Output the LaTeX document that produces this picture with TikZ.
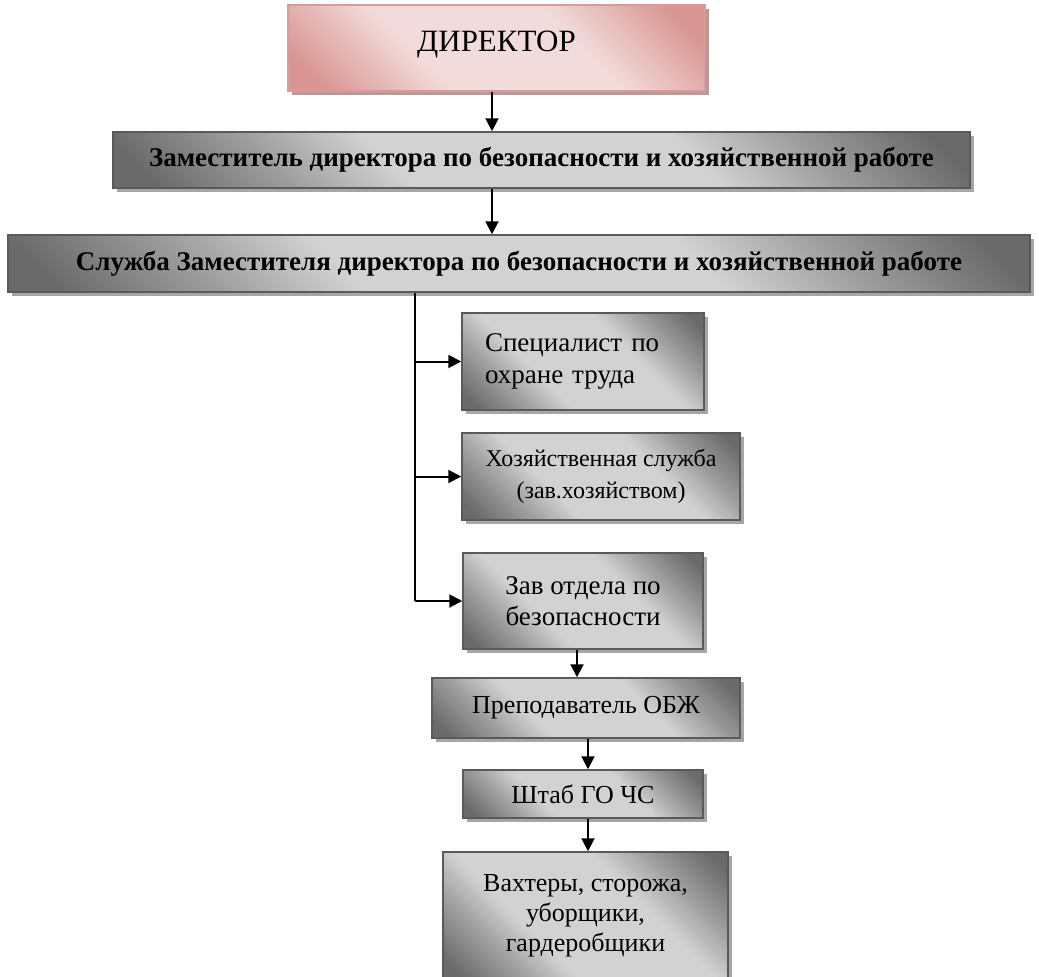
\documentclass[tikz,border=0pt]{standalone}
\usepackage{fontspec}
\setmainfont{Liberation Serif}
\usetikzlibrary{shadows,arrows.meta}
\definecolor{gdark}{HTML}{6A6A6A}
\definecolor{gmid}{HTML}{A0A0A0}
\definecolor{glight}{HTML}{D2D2D2}
\definecolor{gborder}{HTML}{5A5A5A}
\definecolor{gshadow}{HTML}{A6A6A6}
\definecolor{pdark}{HTML}{D99694}
\definecolor{plight}{HTML}{F2DCDB}
\definecolor{pborder}{HTML}{D99A98}
\definecolor{pshadow}{HTML}{B59C9B}
\pgfdeclarehorizontalshading{graymetal}{100bp}{color(0bp)=(gdark); color(18bp)=(gdark); color(29bp)=(gmid); color(38bp)=(glight); color(62bp)=(glight); color(71bp)=(gmid); color(82bp)=(gdark); color(100bp)=(gdark)}
\pgfdeclarehorizontalshading{pinkmetal}{100bp}{color(0bp)=(pdark); color(20bp)=(pdark); color(38bp)=(plight); color(62bp)=(plight); color(80bp)=(pdark); color(100bp)=(pdark)}
\tikzset{
  box/.style={draw=gborder, line width=1.5pt, shading=graymetal, shading angle=45,
    drop shadow={shadow xshift=4pt, shadow yshift=-4pt, fill=gshadow, opacity=1},
    inner sep=0pt, align=center},
  pinkbox/.style={draw=pborder, line width=2pt, shading=pinkmetal, shading angle=45,
    drop shadow={shadow xshift=4pt, shadow yshift=-4pt, fill=pshadow, opacity=1},
    inner sep=0pt, align=center},
  arr/.style={line width=2pt, -{Triangle[length=13pt,width=13pt]}},
  trunk/.style={line width=1.5pt},
}
\begin{document}
\begin{tikzpicture}[x=1pt,y=-1pt]
\useasboundingbox (0,0) rectangle (1039,977);
\node[pinkbox, minimum width=417pt, minimum height=86pt, font={\fontsize{31}{36}\selectfont}] (dir) at (496.5,48)
  {\raisebox{14pt}{ДИРЕКТОР}};
\node[box, minimum width=857pt, minimum height=56pt, font={\fontsize{27}{32}\selectfont\bfseries}] (z1) at (541.5,160)
  {Заместитель директора по безопасности и хозяйственной работе};
\node[box, minimum width=1022pt, minimum height=57pt, font={\fontsize{27}{32}\selectfont\bfseries}] (z2) at (519,263.5)
  {Служба Заместителя директора по безопасности и хозяйственной работе};
\node[box, minimum width=242pt, minimum height=97pt, text width=196pt, align=left, font={\fontsize{27}{32}\selectfont}] (s1) at (583,361.5)
  {Специалист по\\охране труда};
\node[box, minimum width=278pt, minimum height=87pt, font={\fontsize{24}{32}\selectfont}] (s2) at (601,476.5)
  {Хозяйственная служба\\(зав.хозяйством)};
\node[box, minimum width=240pt, minimum height=96pt, font={\fontsize{27}{31}\selectfont}] (s3) at (583,601)
  {Зав отдела по\\безопасности};
\node[box, minimum width=308pt, minimum height=60pt, font={\fontsize{26}{30}\selectfont}] (p) at (586,708)
  {Преподаватель ОБЖ};
\node[box, minimum width=240pt, minimum height=48pt, font={\fontsize{26}{30}\selectfont}] (sh) at (583,794)
  {Штаб ГО ЧС};
\node[box, minimum width=285pt, minimum height=128pt, font={\fontsize{26}{30}\selectfont}] (v) at (585.5,916)
  {Вахтеры, сторожа,\\уборщики,\\гардеробщики};
\coordinate (c1) at (492,0);
\coordinate (t) at (415,0);
\coordinate (c2) at (577,0);
\coordinate (c3) at (588,0);
\draw[arr] (dir.south -| c1) -- (z1.north -| c1);
\draw[arr] (z1.south -| c1) -- (z2.north -| c1);
\draw[trunk] (z2.south -| t) -- (t |- s3.west);
\draw[arr] (t |- s1.west) -- (s1.west);
\draw[arr] (t |- s2.west) -- (s2.west);
\draw[arr] (t |- s3.west) -- (s3.west);
\draw[arr] (s3.south -| c2) -- (p.north -| c2);
\draw[arr] (p.south -| c3) -- (sh.north -| c3);
\draw[arr] (sh.south -| c3) -- (v.north -| c3);
\end{tikzpicture}
\end{document}
